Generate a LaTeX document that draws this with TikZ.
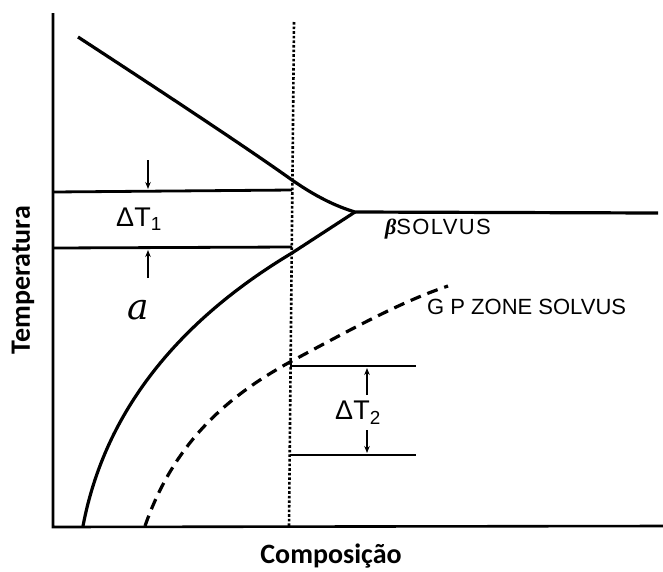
\documentclass[tikz,border=0pt]{standalone}
\usepackage{fontspec}
\setmainfont{Liberation Sans}
\newfontfamily\axisfont{Carlito}
\newfontfamily\betafont{Liberation Serif}
\newfontfamily\alphafont{DejaVu Serif}
\usetikzlibrary{arrows.meta}
\tikzset{
  axisline/.style={line width=2.6pt},
  curveline/.style={line width=3.2pt, line join=round},
  gpline/.style={line width=3.2pt, dash pattern=on 11pt off 7pt},
  dotline/.style={line width=2.6pt, dash pattern=on 2.6pt off 2pt},
  levelline/.style={line width=2.8pt},
  smallarrow/.style={line width=1.5pt, -{Stealth[length=7pt,width=5.5pt]}},
  lbl/.style={inner sep=0pt, font=\fontsize{22}{24}\selectfont},
  dlbl/.style={inner sep=0pt, font=\fontsize{27}{30}\selectfont},
  axlbl/.style={inner sep=0pt, font=\axisfont\bfseries\fontsize{28}{30}\selectfont}
}
\begin{document}
\begin{tikzpicture}[x=1pt,y=-1pt]
\useasboundingbox (0,0) rectangle (663,571);
% axes
\coordinate (ytop) at (53,13);
\coordinate (origin) at (53,527);
\coordinate (xend) at (663,526);
\draw[axisline] (ytop) -- (origin) -- (xend);
% dotted composition line
\coordinate (dtop) at (294,22);
\coordinate (dbot) at (289,526);
\draw[dotline] (dtop) -- (dbot);
% solvus curves
\coordinate (ustart) at (78,37);
\coordinate (ucross) at (292,180);
\coordinate (junc) at (355,212);
\coordinate (solend) at (658,213);
\coordinate (lcross) at (292,253);
\coordinate (lbot) at (83,526);
\draw[curveline] (ustart) .. controls (170,97) and (250,150) .. (ucross)
  .. controls (315,196) and (335,206) .. (junc) -- (solend);
\draw[curveline] (junc) -- (lcross) .. controls (180,320) and (105,410) .. (lbot);
% GP zone solvus
\coordinate (gbot) at (145,526);
\coordinate (gcross) at (290,362);
\coordinate (gend) at (448,286);
\draw[gpline] (gbot) .. controls (175,440) and (230,395) .. (gcross)
  .. controls (350,330) and (400,302) .. (gend);
% Delta T1
\coordinate (a1l) at (53,192);
\coordinate (a1r) at (292,190);
\coordinate (b1l) at (53,248);
\coordinate (b1r) at (292,247);
\draw[levelline] (a1l) -- (a1r);
\draw[levelline] (b1l) -- (b1r);
\coordinate (d1s) at (148,160);
\coordinate (d1e) at (148,189);
\coordinate (u1s) at (148,278);
\coordinate (u1e) at (148,250);
\draw[smallarrow] (d1s) -- (d1e);
\draw[smallarrow] (u1s) -- (u1e);
\node[dlbl] (dt1) at (139,219) {ΔT\textsubscript{1}};
% Delta T2
\coordinate (a2l) at (290,366);
\coordinate (a2r) at (416,366);
\coordinate (b2l) at (290,455);
\coordinate (b2r) at (416,455);
\draw[levelline] (a2l) -- (a2r);
\draw[levelline] (b2l) -- (b2r);
\coordinate (u2s) at (367,395);
\coordinate (u2e) at (367,368);
\coordinate (d2s) at (367,430);
\coordinate (d2e) at (367,453);
\draw[smallarrow] (u2s) -- (u2e);
\draw[smallarrow] (d2s) -- (d2e);
\node[dlbl] (dt2) at (358,413) {ΔT\textsubscript{2}};
% labels
\node[inner sep=0pt, font=\alphafont\itshape\fontsize{36}{36}\selectfont] (alpha) at (138,310) {a};
\node[lbl, anchor=west] (beta) at (385,229) {{\betafont\bfseries\itshape β}{\addfontfeatures{LetterSpace=6}SOLVUS}};
\node[lbl, anchor=west] (gp) at (427,307) {G P ZONE SOLVUS};
\node[axlbl, rotate=90] (temp) at (23,280) {Temperatura};
\node[axlbl] (comp) at (331,556) {Composição};
\end{tikzpicture}
\end{document}
